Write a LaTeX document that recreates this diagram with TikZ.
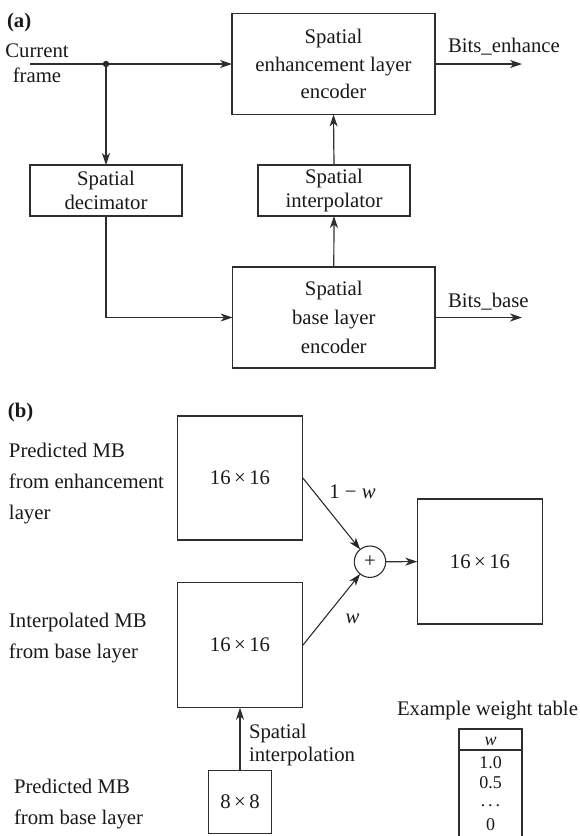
\documentclass[tikz,border=0pt]{standalone}
\usepackage{fontspec}
\setmainfont{Liberation Serif}
\usetikzlibrary{arrows.meta}
\newcommand{\fsz}[1]{\fontsize{20.75}{#1}\selectfont}
\begin{document}
\begin{tikzpicture}[x=1pt,y=-1pt,
  every node/.style={font=\fsz{24}, text=black!90, inner sep=0pt, outer sep=0pt},
  blk/.style={draw=black!82, line width=1.2pt, align=center},
  ln/.style={draw=black!82, line width=1.2pt},
  arr/.style={ln, -{Stealth[length=12pt,width=8pt,inset=3.5pt]}},
  thinarr/.style={draw=black!85, line width=1.05pt, -{Stealth[length=12pt,width=8pt,inset=3.5pt]}},
  lbl/.style={anchor=base west},
  tab/.style={anchor=base, font=\fontsize{18}{20}\selectfont},
]
\useasboundingbox (0,0) rectangle (580,836);

% ---------- (a) ----------
\node[lbl] (ta) at (7,27) {\textbf{(a)}};
\node[align=center, font=\fsz{25}] (cur) at (37,63.5) {Current\\frame};

\node[blk, font=\fsz{27.5}, minimum width=203pt, minimum height=101pt] (enh) at (333.5,64) {Spatial\\enhancement layer\\encoder};
\node[blk, font=\fsz{24}, minimum width=152pt, minimum height=51pt] (dec) at (106,190.5) {Spatial\\decimator};
\node[blk, font=\fsz{24}, minimum width=152pt, minimum height=51pt] (interp) at (334,190.5) {Spatial\\interpolator};
\node[blk, font=\fsz{29}, minimum width=202.3pt, minimum height=101pt] (base) at (333.8,317.5) {Spatial\\base layer\\encoder};

\coordinate (cin) at (30,64);
\coordinate (split) at (106,64);
\coordinate (oute) at (522,64);
\coordinate (outb) at (522,317.5);

\draw[arr] (cin) -- (enh.west);
\fill[black!85] (split) circle (3.2pt);
\draw[arr] (split) -- (dec.north);
\draw[arr] (interp.north) -- (enh.south);
\draw[arr] (base.north) -- (interp.south);
\draw[arr] (dec.south) |- (base.west);
\draw[arr] (enh.east) -- (oute);
\draw[arr] (base.east) -- (outb);

\node[lbl] (be) at (448,52) {Bits\_enhance};
\node[lbl] (bb) at (448,307) {Bits\_base};

% ---------- (b) ----------
\node[lbl] (tb) at (8,417) {\textbf{(b)}};

\node[align=left, anchor=west, font=\fsz{31}] (l1) at (9,484) {Predicted MB\\from enhancement\\layer};
\node[align=left, anchor=west, font=\fsz{31}] (l2) at (9,637.7) {Interpolated MB\\from base layer};
\node[align=left, anchor=west, font=\fsz{31}] (l3) at (14,803.6) {Predicted MB\\from base layer};

\node[blk, minimum width=125.7pt, minimum height=124pt] (b1) at (240,478) {16\,×\,16};
\node[blk, minimum width=125.7pt, minimum height=125pt] (b2) at (240,645.2) {16\,×\,16};
\node[blk, circle, line width=1.1pt, minimum size=31.4pt] (plus) at (370,561.7) {+};
\node[blk, minimum width=125.4pt, minimum height=125pt] (out) at (480,561.5) {16\,×\,16};
\node[blk, minimum width=63.4pt, minimum height=62.6pt] (b8) at (240,802) {8\,×\,8};

\draw[thinarr] (b1.east) -- (plus);
\draw[thinarr] (b2.east) -- (plus);
\draw[arr] (plus) -- (out);
\draw[arr] (b8) -- (b2);

\node[anchor=base] (w1) at (352.5,498) {1 − \textit{w}};
\node[anchor=base] (w2) at (352.5,623) {\textit{w}};
\node[align=left, anchor=west, font=\fsz{22}] (si) at (249,745) {Spatial\\interpolation};

% weight table
\node[lbl] (ex) at (397,715) {Example weight table};
\draw[ln] (459,836) -- (459,729) -- (522,729) -- (522,836);
\draw[ln] (459,750) -- (522,750);
\node[tab] (tw) at (490.5,745) {\textit{w}};
\node[tab] (t1) at (490.5,768) {1.0};
\node[tab] (t2) at (490.5,788) {0.5};
\node[tab] (t3) at (490.5,806) {.\,.\,.};
\node[tab] (t4) at (490.5,830) {0};
\end{tikzpicture}
\end{document}
